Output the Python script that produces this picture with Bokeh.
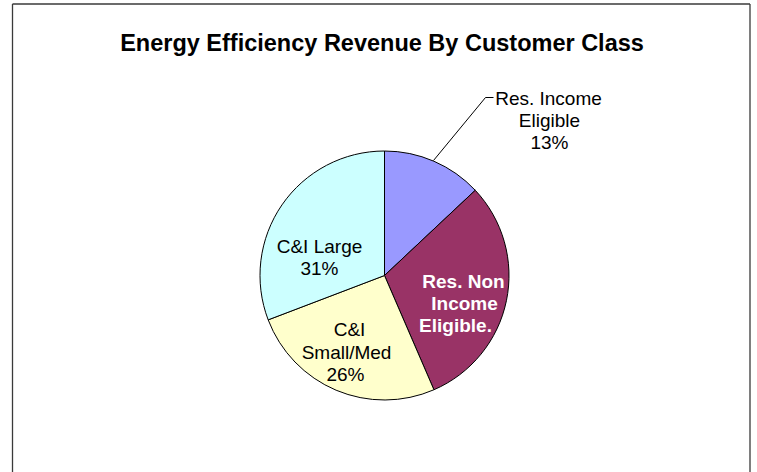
import numpy as np
from bokeh.plotting import figure
from bokeh.models import Range1d, ColumnDataSource
from bokeh.core.properties import value
from bokeh.embed import file_html
from bokeh.resources import INLINE

# ---- data ----
title = "Energy Efficiency Revenue By Customer Class"
categories = ["Res. Income Eligible", "Res. Non Income Eligible", "C&I Small/Med", "C&I Large"]
shares = [13.0, 30.5, 25.7, 30.8]
colors = ["#9999FF", "#993366", "#FFFFCC", "#CCFFFF"]
label_lines = [
    ["Res. Income", "Eligible", "13%"],
    ["Res. Non", "Income", "Eligible."],
    ["C&I", "Small/Med", "26%"],
    ["C&I Large", "31%"],
]
label_colors = ["black", "white", "black", "black"]
label_bold = [False, True, False, False]

# ---- layout (page pixel positions) ----
W, H = 757, 472
def dy(page_y):
    return H - page_y

cx, cy, R = 384, dy(275), 124.5
label_pos = [  # per line: (x center, baseline page y)
    [(548, 98), (549, 120), (549, 142)],
    [(463, 281), (464, 303), (455, 325)],
    [(349, 329), (346, 352), (345, 374)],
    [(319, 246), (319, 268)],
]

p = figure(width=W, height=H, output_backend="svg", toolbar_location=None,
           x_range=Range1d(0, W), y_range=Range1d(0, H),
           min_border=0, x_axis_type=None, y_axis_type=None,
           outline_line_color=None, background_fill_color="white",
           border_fill_color="white")

# chart frame
fx0, fx1, fy0 = 12, 749.5, 3.5
p.multi_line(xs=[[fx0, fx0], [fx0, fx1], [fx1, fx1]],
             ys=[[dy(H), dy(fy0)], [dy(fy0), dy(fy0)], [dy(fy0), dy(H)]],
             line_color="#3a3a3a", line_width=1.3)

# title
p.text(x=[381.5], y=[dy(42)], text=[title], text_align="center",
       text_baseline="alphabetic", text_font=value("Liberation Sans"),
       text_font_size="23.5px", text_font_style="bold", text_color="black")

# pie
vals = np.array(shares, dtype=float)
cum = np.concatenate([[0], np.cumsum(vals)]) / vals.sum() * 360.0
start = np.radians(90 - cum[1:])
end = np.radians(90 - cum[:-1])
src = ColumnDataSource(dict(cat=categories, start=start, end=end, color=colors))
p.wedge(x=cx, y=cy, radius=R, start_angle="start", end_angle="end",
        direction="anticlock", fill_color="color", line_color="black",
        line_width=1, source=src)

# leader line for the first slice
p.line(x=[433, 485, 493], y=[dy(160), dy(97), dy(97)], line_color="black", line_width=1)

# labels
tx, ty, tt, tc, ts = [], [], [], [], []
for pos, lines, col, bold in zip(label_pos, label_lines, label_colors, label_bold):
    for (lx, ly), line in zip(pos, lines):
        tx.append(lx)
        ty.append(dy(ly))
        tt.append(line)
        tc.append(col)
        ts.append("bold" if bold else "normal")
lsrc = ColumnDataSource(dict(x=tx, y=ty, text=tt, color=tc, style=ts))
p.text(x="x", y="y", text="text", text_color="color", text_font_style="style",
       text_align="center", text_baseline="alphabetic",
       text_font=value("Liberation Sans"), text_font_size="19px", source=lsrc)

p.xgrid.visible = False
p.ygrid.visible = False

open("out.html", "w").write(file_html(p, INLINE))
